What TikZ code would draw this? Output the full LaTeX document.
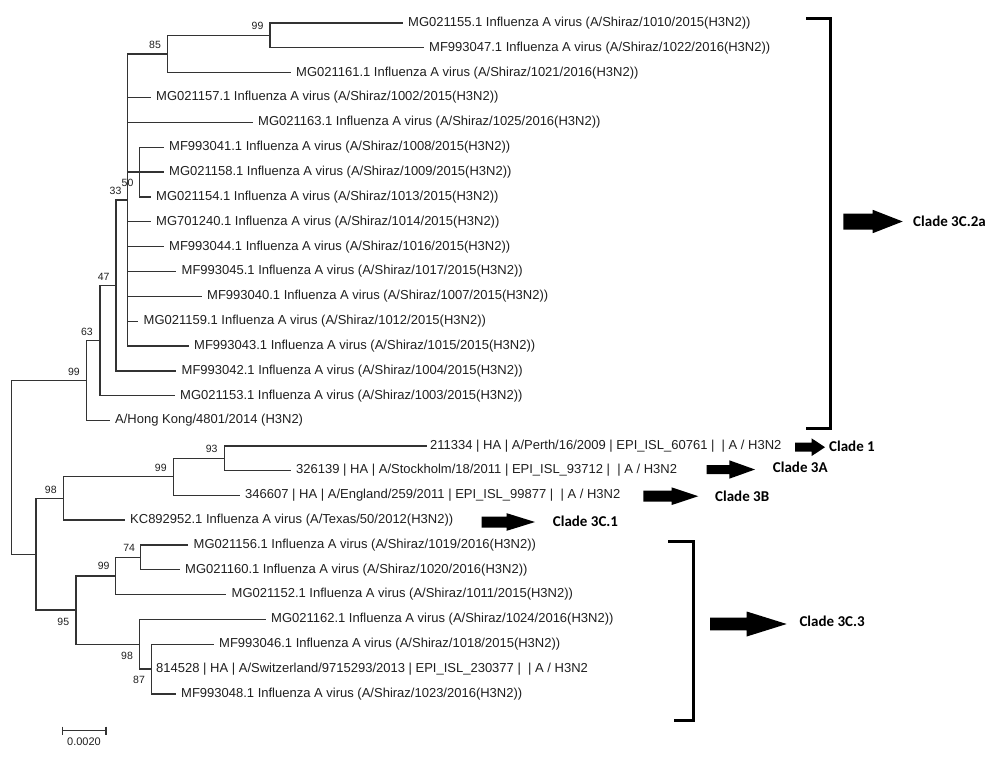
\documentclass[tikz,border=0pt]{standalone}
\usepackage{fontspec}
\setmainfont{Liberation Sans}
\newfontfamily\cladefont{Carlito}
\newcommand{\cladearrow}[6]{\fill[cladearrowstyle] (#1,#4-#5) -- (#2,#4-#5) -- (#2,#4-#6) -- (#3,#4) -- (#2,#4+#6) -- (#2,#4+#5) -- (#1,#4+#5) -- cycle;}
\begin{document}
\begin{tikzpicture}[x=1pt,y=-1pt,
  branch/.style={draw=black!80, line width=1.3pt},
  leaf/.style={anchor=west, inner sep=0pt, font=\fontsize{13}{15}\selectfont, text=black!88},
  boot/.style={inner sep=0pt, font=\fontsize{10.5}{12}\selectfont, text=black!88},
  scalelbl/.style={inner sep=0pt, font=\fontsize{11}{13}\selectfont, text=black!88},
  clade/.style={anchor=west, inner sep=0pt, font=\cladefont\bfseries\fontsize{15}{18}\selectfont},
  bracket/.style={draw=black, line width=3pt},
  cladearrowstyle/.style={fill=black, draw=none}]
\useasboundingbox (0,0) rectangle (1000,757);

% ---------- leaves ----------
\node[leaf] (l1)  at (408,23.00)  {MG021155.1 Influenza A virus (A/Shiraz/1010/2015(H3N2))};
\node[leaf] (l2)  at (429,47.85)  {MF993047.1 Influenza A virus (A/Shiraz/1022/2016(H3N2))};
\node[leaf] (l3)  at (296,72.70)  {MG021161.1 Influenza A virus (A/Shiraz/1021/2016(H3N2))};
\node[leaf] (l4)  at (156,97.55)  {MG021157.1 Influenza A virus (A/Shiraz/1002/2015(H3N2))};
\node[leaf] (l5)  at (258,122.40) {MG021163.1 Influenza A virus (A/Shiraz/1025/2016(H3N2))};
\node[leaf] (l6)  at (169,147.25) {MF993041.1 Influenza A virus (A/Shiraz/1008/2015(H3N2))};
\node[leaf] (l7)  at (169,172.10) {MG021158.1 Influenza A virus (A/Shiraz/1009/2015(H3N2))};
\node[leaf] (l8)  at (156,196.95) {MG021154.1 Influenza A virus (A/Shiraz/1013/2015(H3N2))};
\node[leaf] (l9)  at (156,221.80) {MG701240.1 Influenza A virus (A/Shiraz/1014/2015(H3N2))};
\node[leaf] (l10) at (169,246.65) {MF993044.1 Influenza A virus (A/Shiraz/1016/2015(H3N2))};
\node[leaf] (l11) at (181.5,271.50) {MF993045.1 Influenza A virus (A/Shiraz/1017/2015(H3N2))};
\node[leaf] (l12) at (207,296.35) {MF993040.1 Influenza A virus (A/Shiraz/1007/2015(H3N2))};
\node[leaf] (l13) at (143.5,321.20) {MG021159.1 Influenza A virus (A/Shiraz/1012/2015(H3N2))};
\node[leaf] (l14) at (194,346.05) {MF993043.1 Influenza A virus (A/Shiraz/1015/2015(H3N2))};
\node[leaf] (l15) at (181.5,370.90) {MF993042.1 Influenza A virus (A/Shiraz/1004/2015(H3N2))};
\node[leaf] (l16) at (180,395.75) {MG021153.1 Influenza A virus (A/Shiraz/1003/2015(H3N2))};
\node[leaf] (l17) at (115,420.60) {A/Hong Kong/4801/2014 (H3N2)};
\node[leaf] (l18) at (430,446.00) {211334 | HA | A/Perth/16/2009 | EPI\_ISL\_60761 | \ | A / H3N2};
\node[leaf] (l19) at (296,470.50) {326139 | HA | A/Stockholm/18/2011 | EPI\_ISL\_93712 | \ | A / H3N2};
\node[leaf] (l20) at (245,495.30) {346607 | HA | A/England/259/2011 | EPI\_ISL\_99877 | \ | A / H3N2};
\node[leaf] (l21) at (130,520.00) {KC892952.1 Influenza A virus (A/Texas/50/2012(H3N2))};
\node[leaf] (l22) at (193.5,544.85) {MG021156.1 Influenza A virus (A/Shiraz/1019/2016(H3N2))};
\node[leaf] (l23) at (185,569.70) {MG021160.1 Influenza A virus (A/Shiraz/1020/2016(H3N2))};
\node[leaf] (l24) at (231.5,594.55) {MG021152.1 Influenza A virus (A/Shiraz/1011/2015(H3N2))};
\node[leaf] (l25) at (271,619.40) {MG021162.1 Influenza A virus (A/Shiraz/1024/2016(H3N2))};
\node[leaf] (l26) at (219,644.25) {MF993046.1 Influenza A virus (A/Shiraz/1018/2015(H3N2))};
\node[leaf] (l27) at (156,669.10) {814528 | HA | A/Switzerland/9715293/2013 | EPI\_ISL\_230377 | \ | A / H3N2};
\node[leaf] (l28) at (181,693.95) {MF993048.1 Influenza A virus (A/Shiraz/1023/2016(H3N2))};

% ---------- branch ends at the leaves ----------
\foreach \i in {1,...,17,19,20,21,22,23,24,25,26,28}
  \coordinate (e\i) at ([xshift=-5.5pt]l\i.west);
\coordinate (e18) at ([xshift=-3.5pt]l18.west);
\coordinate (e27) at ([xshift=-4.3pt]l27.west);

% ---------- internal nodes ----------
\coordinate (nA) at (270,35.4);
\coordinate (nB) at (167.7,54.05);
\coordinate (nC) at (139.3,172.1);
\coordinate (nD) at (127.3,200.05);
\coordinate (nE) at (116,285.5);
\coordinate (nF) at (100,340.6);
\coordinate (nG) at (86.7,380.6);
\coordinate (nI) at (224.3,458.2);
\coordinate (nJ) at (173.3,476.8);
\coordinate (nK) at (63.3,498.4);
\coordinate (nL) at (140.7,557.3);
\coordinate (nM) at (115.7,575.9);
\coordinate (nN) at (151.7,669.1);
\coordinate (nO) at (139.3,644.25);
\coordinate (nP) at (76,610.1);
\coordinate (nH) at (36,554.25);
\coordinate (nR) at (11.7,467.4);

% ---------- branches (one path per fork, no overdrawing) ----------
\draw[branch] (e1) -| (nA) |- (e2);
\draw[branch] (nA) -| (nB) |- (e3);
\draw[branch] (e6) -| (nC) |- (e8);
\draw[branch] (nC) -- (e7);
\draw[branch] (nB) -| (nD) |- (e14);
\foreach \c in {e4,e5,e9,e10,e11,e12,e13}
  \draw[branch] (nD |- \c) -- (\c);
\draw[branch] (nD |- nC) -- (nC);
\draw[branch] (nD) -| (nE) |- (e15);
\draw[branch] (nE) -| (nF) |- (e16);
\draw[branch] (nF) -| (nG) |- (e17);
\draw[branch] (e18) -| (nI) |- (e19);
\draw[branch] (nI) -| (nJ) |- (e20);
\draw[branch] (nJ) -| (nK) |- (e21);
\draw[branch] (e22) -| (nL) |- (e23);
\draw[branch] (nL) -| (nM) |- (e24);
\draw[branch] (e26) -| (nN) |- (e28);
\draw[branch] (nN) -- (e27);
\draw[branch] (e25) -| (nO) |- (nN);
\draw[branch] (nM) -| (nP) |- (nO);
\draw[branch] (nK) -| (nH) |- (nP);
\draw[branch] (nG) -| (nR) |- (nH);

% ---------- bootstrap values ----------
\node[boot] (b1)  at (257.5,26)  {99};
\node[boot] (b2)  at (155,44.7)  {85};
\node[boot] (b3)  at (127.5,183) {50};
\node[boot] (b4)  at (115.5,191) {33};
\node[boot] (b5)  at (103.7,277) {47};
\node[boot] (b6)  at (87,332)    {63};
\node[boot] (b7)  at (74,372)    {99};
\node[boot] (b8)  at (211.7,449.3) {93};
\node[boot] (b9)  at (160.8,467.7) {99};
\node[boot] (b10) at (50.8,489.5) {98};
\node[boot] (b11) at (129.2,547.5) {74};
\node[boot] (b12) at (103.7,566) {99};
\node[boot] (b13) at (63.3,621.7) {95};
\node[boot] (b14) at (127,655.8) {98};
\node[boot] (b15) at (139,680)   {87};

% ---------- scale bar ----------
\coordinate (s1) at (62.7,730.7);
\coordinate (s2) at (106,730.7);
\draw[branch] (s1) -- (s2);
\draw[branch] ([yshift=4pt]s1) -- ([yshift=-4pt]s1);
\draw[branch] ([yshift=4pt]s2) -- ([yshift=-4pt]s2);
\node[scalelbl] (sl) at (84,742) {0.0020};

% ---------- brackets ----------
\draw[bracket] (806,18.3) -| (830,428.3) -- (806,428.3);
\draw[bracket] (668.3,541.7) -| (693.3,720) -- (674,720);

% ---------- clade arrows and labels ----------
\cladearrow{843.3}{872.7}{902.7}{221.5}{8}{11.7}
\node[clade] (c2a) at (913,221) {Clade 3C.2a};
\cladearrow{795}{811.7}{825}{447.2}{4.5}{8.8}
\node[clade] (c1) at (829,446.5) {Clade 1};
\cladearrow{706.7}{729.3}{755}{469.5}{4.5}{9.2}
\node[clade] (c3a) at (772.7,467.5) {Clade 3A};
\cladearrow{643.3}{671.7}{698.3}{496.2}{5.5}{8.8}
\node[clade] (c3b) at (715,496) {Clade 3B};
\cladearrow{481.7}{506.7}{535}{522}{5.5}{8.8}
\node[clade] (c3c1) at (552.7,521.5) {Clade 3C.1};
\cladearrow{710}{746.7}{786.7}{624}{6.3}{12.5}
\node[clade] (c3c3) at (799.3,621) {Clade 3C.3};
\end{tikzpicture}
\end{document}
